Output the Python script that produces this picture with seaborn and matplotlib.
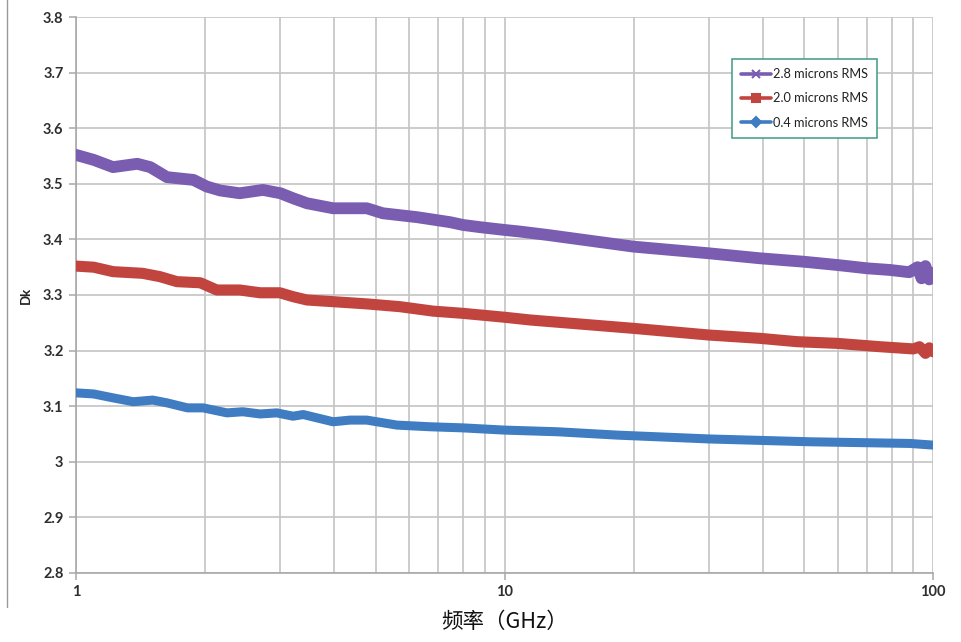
import matplotlib
matplotlib.use("Agg")
import matplotlib.pyplot as plt
from matplotlib.lines import Line2D
from matplotlib.ticker import FixedLocator, NullFormatter, FuncFormatter
import seaborn as sns
import pandas as pd

# ---- data ----
freq_28 = [1.0, 1.10, 1.22, 1.39, 1.49, 1.63, 1.88, 2.02, 2.17, 2.41, 2.73, 3.0, 3.21, 3.46,
           3.98, 4.77, 5.20, 6.25, 7.46, 8.00, 8.77, 10.0, 10.9, 12.6, 20.0, 30.0, 39.5,
           49.7, 59.7, 70.2, 79.4, 88.0, 92.0, 94.0, 96.0, 98.0, 100.0]
dk_28 = [3.552, 3.543, 3.530, 3.536, 3.530, 3.512, 3.507, 3.495, 3.488, 3.483, 3.489, 3.483,
         3.474, 3.465, 3.456, 3.456, 3.447, 3.440, 3.431, 3.426, 3.422, 3.417, 3.414, 3.408,
         3.387, 3.375, 3.366, 3.360, 3.354, 3.348, 3.345, 3.341, 3.350, 3.330, 3.352, 3.328, 3.340]

freq_20 = [1.0, 1.10, 1.22, 1.43, 1.57, 1.72, 1.95, 2.13, 2.41, 2.69, 2.99, 3.21, 3.46, 3.98,
           4.77, 5.70, 6.81, 8.00, 10.0, 11.5, 20.0, 30.0, 39.5, 48.2, 59.7, 75.2, 90.0,
           93.0, 96.0, 98.0, 100.0]
dk_20 = [3.352, 3.350, 3.342, 3.339, 3.333, 3.324, 3.322, 3.309, 3.309, 3.304, 3.304, 3.297,
         3.291, 3.288, 3.284, 3.279, 3.271, 3.267, 3.260, 3.255, 3.240, 3.228, 3.222, 3.216,
         3.213, 3.207, 3.203, 3.207, 3.195, 3.205, 3.198]

freq_04 = [1.0, 1.10, 1.22, 1.36, 1.51, 1.63, 1.82, 1.98, 2.25, 2.45, 2.69, 2.94, 3.21, 3.39,
           3.98, 4.36, 4.77, 5.61, 6.70, 8.00, 10.0, 13.3, 18.3, 30.2, 51.6, 88.4, 100.0]
dk_04 = [3.124, 3.122, 3.115, 3.108, 3.111, 3.106, 3.097, 3.097, 3.088, 3.090, 3.086, 3.088,
         3.082, 3.085, 3.072, 3.075, 3.075, 3.066, 3.063, 3.061, 3.057, 3.054, 3.048, 3.041,
         3.036, 3.033, 3.030]

series_names = ["2.8 microns RMS", "2.0 microns RMS", "0.4 microns RMS"]
series_colors = ["#7a5cb0", "#c2443e", "#3f7cc2"]
series_markers = ["x", "s", "D"]
series_widths = [8.5, 8.0, 6.5]

x_label = "频率（GHz）"
y_label = "Dk"
y_ticks = [2.8, 2.9, 3.0, 3.1, 3.2, 3.3, 3.4, 3.5, 3.6, 3.7, 3.8]
x_ticks = [1, 10, 100]

# ---- build table ----
frames = []
for name, f, v in zip(series_names, [freq_28, freq_20, freq_04], [dk_28, dk_20, dk_04]):
    frames.append(pd.DataFrame({"freq": f, "dk": v, "series": name}))
df = pd.concat(frames, ignore_index=True)

sns.set_theme(style="white")
plt.rcParams["font.family"] = ["Lato", "DejaVu Sans"]

fig = plt.figure(figsize=(9.61, 6.42), dpi=100)
ax = fig.add_axes([0.0791, 0.1075, 0.8918, 0.866])

for name, col, lw in zip(series_names, series_colors, series_widths):
    sub = df[df["series"] == name]
    sns.lineplot(data=sub, x="freq", y="dk", color=col, linewidth=lw, ax=ax,
                 legend=False, estimator=None, sort=True, solid_capstyle="round",
                 solid_joinstyle="round", zorder=3)

ax.set_xscale("log")
ax.set_xlim(1, 100)
ax.set_ylim(2.8, 3.8)

ax.xaxis.set_major_locator(FixedLocator(x_ticks))
minor = [m * d for d in (1, 10) for m in range(2, 10)]
ax.xaxis.set_minor_locator(FixedLocator(minor))
ax.xaxis.set_minor_formatter(NullFormatter())
ax.xaxis.set_major_formatter(FuncFormatter(lambda v, p: f"{v:g}"))
ax.yaxis.set_major_locator(FixedLocator(y_ticks))
ax.yaxis.set_major_formatter(FuncFormatter(lambda v, p: f"{v:g}"))

ax.grid(True, which="both", axis="x", color="#c4c4c4", linewidth=1.2)
ax.grid(True, which="major", axis="y", color="#c4c4c4", linewidth=1.2)
ax.set_axisbelow(True)

for s in ["top", "right"]:
    ax.spines[s].set_visible(False)
for s in ["left", "bottom"]:
    ax.spines[s].set_color("#a8a8a8")
    ax.spines[s].set_linewidth(1.2)

ax.tick_params(axis="both", which="major", length=5, width=1.1, color="#a8a8a8",
               direction="out", labelsize=10.5, labelcolor="#2e2e2e", pad=4)
ax.tick_params(axis="x", which="minor", length=0)
ax.tick_params(axis="y", left=True)
ax.tick_params(axis="x", bottom=True)
for lab in ax.get_xticklabels() + ax.get_yticklabels():
    lab.set_fontweight("bold")

ax.set_xlabel(x_label, fontsize=15.5, family=["Noto Sans CJK SC", "DejaVu Sans"],
              color="#111111", labelpad=8)
ax.set_ylabel(y_label, fontsize=9.5, fontweight="bold", color="#222222", labelpad=8)

handles = [Line2D([0], [0], color=c, marker=m, markersize=5.5, linewidth=2.6,
                  markeredgewidth=1.5)
           for c, m in zip(series_colors, series_markers)]
leg = ax.legend(handles, series_names, loc="upper left", bbox_to_anchor=(0.765, 0.925),
                fontsize=9.2, frameon=True, fancybox=False, handlelength=2.3,
                handletextpad=0.15, borderpad=0.75, labelspacing=0.95, borderaxespad=0)
leg.get_frame().set_edgecolor("#3f9a86")
leg.get_frame().set_linewidth(1.1)
leg.get_frame().set_facecolor("white")
leg.get_frame().set_alpha(1)
for t in leg.get_texts():
    t.set_color("#222222")

# outer frame line at left edge of the image
fig.add_artist(Line2D([0.0073, 0.0073], [0.055, 1.0], color="#9a9a9a", linewidth=1.0))

fig.savefig("out.png", dpi=100)
